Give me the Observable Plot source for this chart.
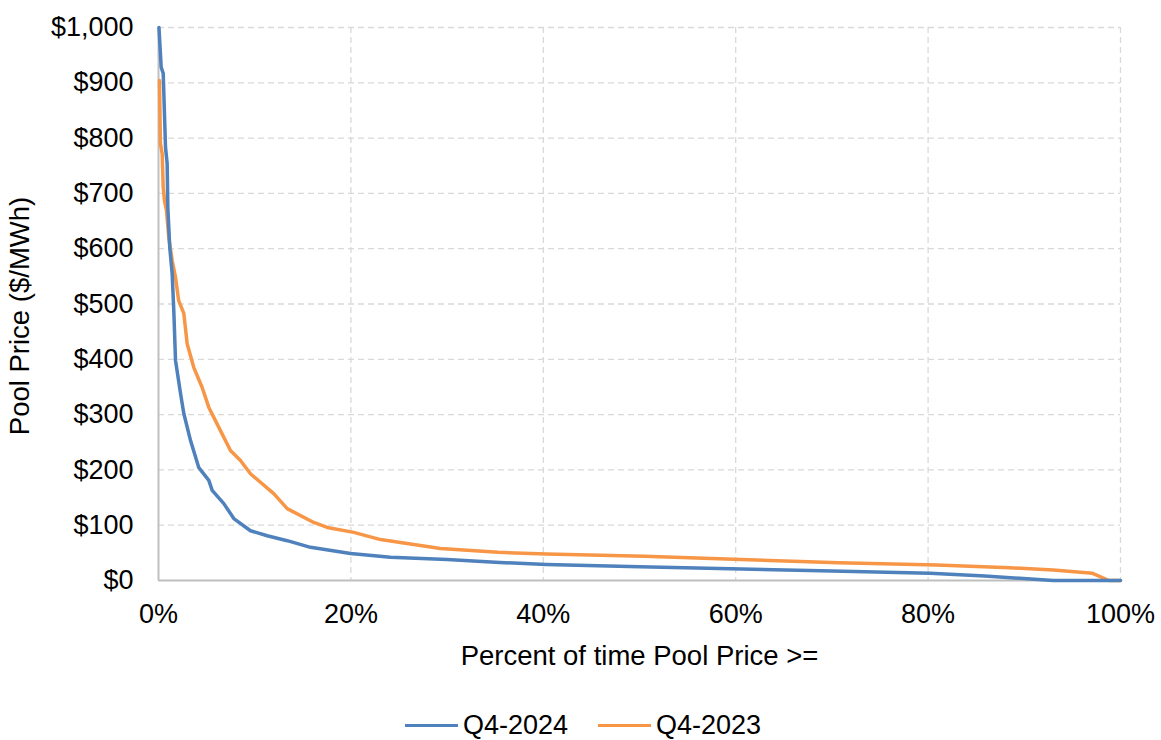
<!DOCTYPE html>
<html>
<head>
<meta charset="utf-8">
<script src="https://cdn.jsdelivr.net/npm/d3@7"></script>
<script src="https://cdn.jsdelivr.net/npm/@observablehq/plot@0.6"></script>
<style>
  body { margin: 0; background: #fff; font-family: "Liberation Sans", Arial, sans-serif; }
  #legend { height: 40px; margin-top: 5px; display: flex; align-items: center; justify-content: center; font-size: 27px; color: #000; padding-left: 5px; }
  .item { display: flex; align-items: center; margin: 0 15px; }
  .swatch { width: 53px; height: 3px; margin-right: 5px; }
</style>
</head>
<body>
<div id="chart"></div>
<div id="legend"></div>
<script>
// Q4-2024 duration curve (percent of time, $/MWh)
const pct2024 = [0.05, 0.28, 0.49, 0.73, 0.9, 0.97, 1.17, 1.42, 1.59, 1.77, 2.29, 2.63, 3.33, 4.19, 5.23, 5.58, 6.79, 7.83, 9.56, 11.3, 13.38, 15.8, 19.96, 24.1, 30, 35, 40.3, 50, 60.6, 70, 80.2, 85.9, 93, 100];
const price2024 = [1000, 928, 917, 783, 754, 675, 602, 555, 488, 398, 338, 302, 253, 204, 181, 163, 139, 112, 90, 81, 72, 60, 49, 42, 38, 33, 29, 25, 21, 17, 13, 8, 0, 0];

// Q4-2023 duration curve
const pct2023 = [0.1, 0.2, 0.38, 0.49, 0.62, 0.83, 1.07, 1.42, 1.77, 2.1, 2.63, 2.98, 3.67, 4.54, 5.23, 6.44, 7.48, 8.52, 9.56, 11.98, 13.38, 16.14, 17.54, 20.3, 23.08, 25.85, 29.3, 35.3, 40.3, 50.5, 60.6, 70.7, 80.9, 88.5, 93, 97.1, 98.8, 100];
const price2023 = [904, 790, 772, 711, 687, 669, 620, 579, 548, 506, 483, 428, 385, 349, 313, 271, 235, 217, 193, 157, 130, 105, 96, 87, 74, 67, 58, 51, 48, 44, 38, 32, 28, 23, 19, 13, 0, 0];

const seriesNames = ["Q4-2024", "Q4-2023"];
const seriesColors = ["#4F81BD", "#F79646"];
const xTicks = [0, 20, 40, 60, 80, 100];
const yTicks = [0, 100, 200, 300, 400, 500, 600, 700, 800, 900, 1000];
const xTitle = "Percent of time Pool Price >=";
const yTitle = "Pool Price ($/MWh)";

const d2024 = pct2024.map((p, i) => ({x: p, y: price2024[i]}));
const d2023 = pct2023.map((p, i) => ({x: p, y: price2023[i]}));

const chart = Plot.plot({
  width: 1161,
  height: 700,
  marginLeft: 158,
  marginRight: 41,
  marginTop: 27,
  marginBottom: 120,
  style: {fontSize: "27px", fontFamily: "'Liberation Sans', Arial, sans-serif", color: "#000", background: "#fff", overflow: "visible"},
  x: {domain: [0, 100]},
  y: {domain: [0, 1000]},
  marks: [
    Plot.gridX(xTicks.filter(d => d > 0), {stroke: "#d9d9d9", strokeOpacity: 1, strokeWidth: 1.3, strokeDasharray: "6,4"}),
    Plot.gridY(yTicks.filter(d => d > 0), {stroke: "#d9d9d9", strokeOpacity: 1, strokeWidth: 1.3, strokeDasharray: "6,4"}),
    Plot.ruleX([0], {stroke: "#bfbfbf", strokeWidth: 2}),
    Plot.ruleY([0], {stroke: "#bfbfbf", strokeWidth: 2}),
    Plot.axisX(xTicks, {tickSize: 0, tickPadding: 23, tickFormat: d => d + "%", label: null}),
    Plot.axisY(yTicks, {tickSize: 0, tickPadding: 25, tickFormat: d => "$" + d3.format(",")(d), label: null}),
    Plot.line(d2023, {x: "x", y: "y", stroke: seriesColors[1], strokeWidth: 3.5, strokeLinejoin: "round"}),
    Plot.line(d2024, {x: "x", y: "y", stroke: seriesColors[0], strokeWidth: 3.5, strokeLinejoin: "round"}),
    Plot.text([xTitle], {frameAnchor: "bottom", dy: 76, lineAnchor: "middle", textAnchor: "middle", fontSize: 27.5, text: d => d, fill: "#000"}),
    Plot.text([yTitle], {frameAnchor: "left", dx: -138, dy: 12, rotate: -90, lineAnchor: "middle", textAnchor: "middle", fontSize: 27.5, text: d => d, fill: "#000"})
  ]
});
document.getElementById("chart").appendChild(chart);

const legend = document.getElementById("legend");
seriesNames.forEach((name, i) => {
  const item = document.createElement("div");
  item.className = "item";
  const sw = document.createElement("div");
  sw.className = "swatch";
  sw.style.background = seriesColors[i];
  const label = document.createElement("span");
  label.textContent = name;
  item.appendChild(sw);
  item.appendChild(label);
  legend.appendChild(item);
});
</script>
</body>
</html>
